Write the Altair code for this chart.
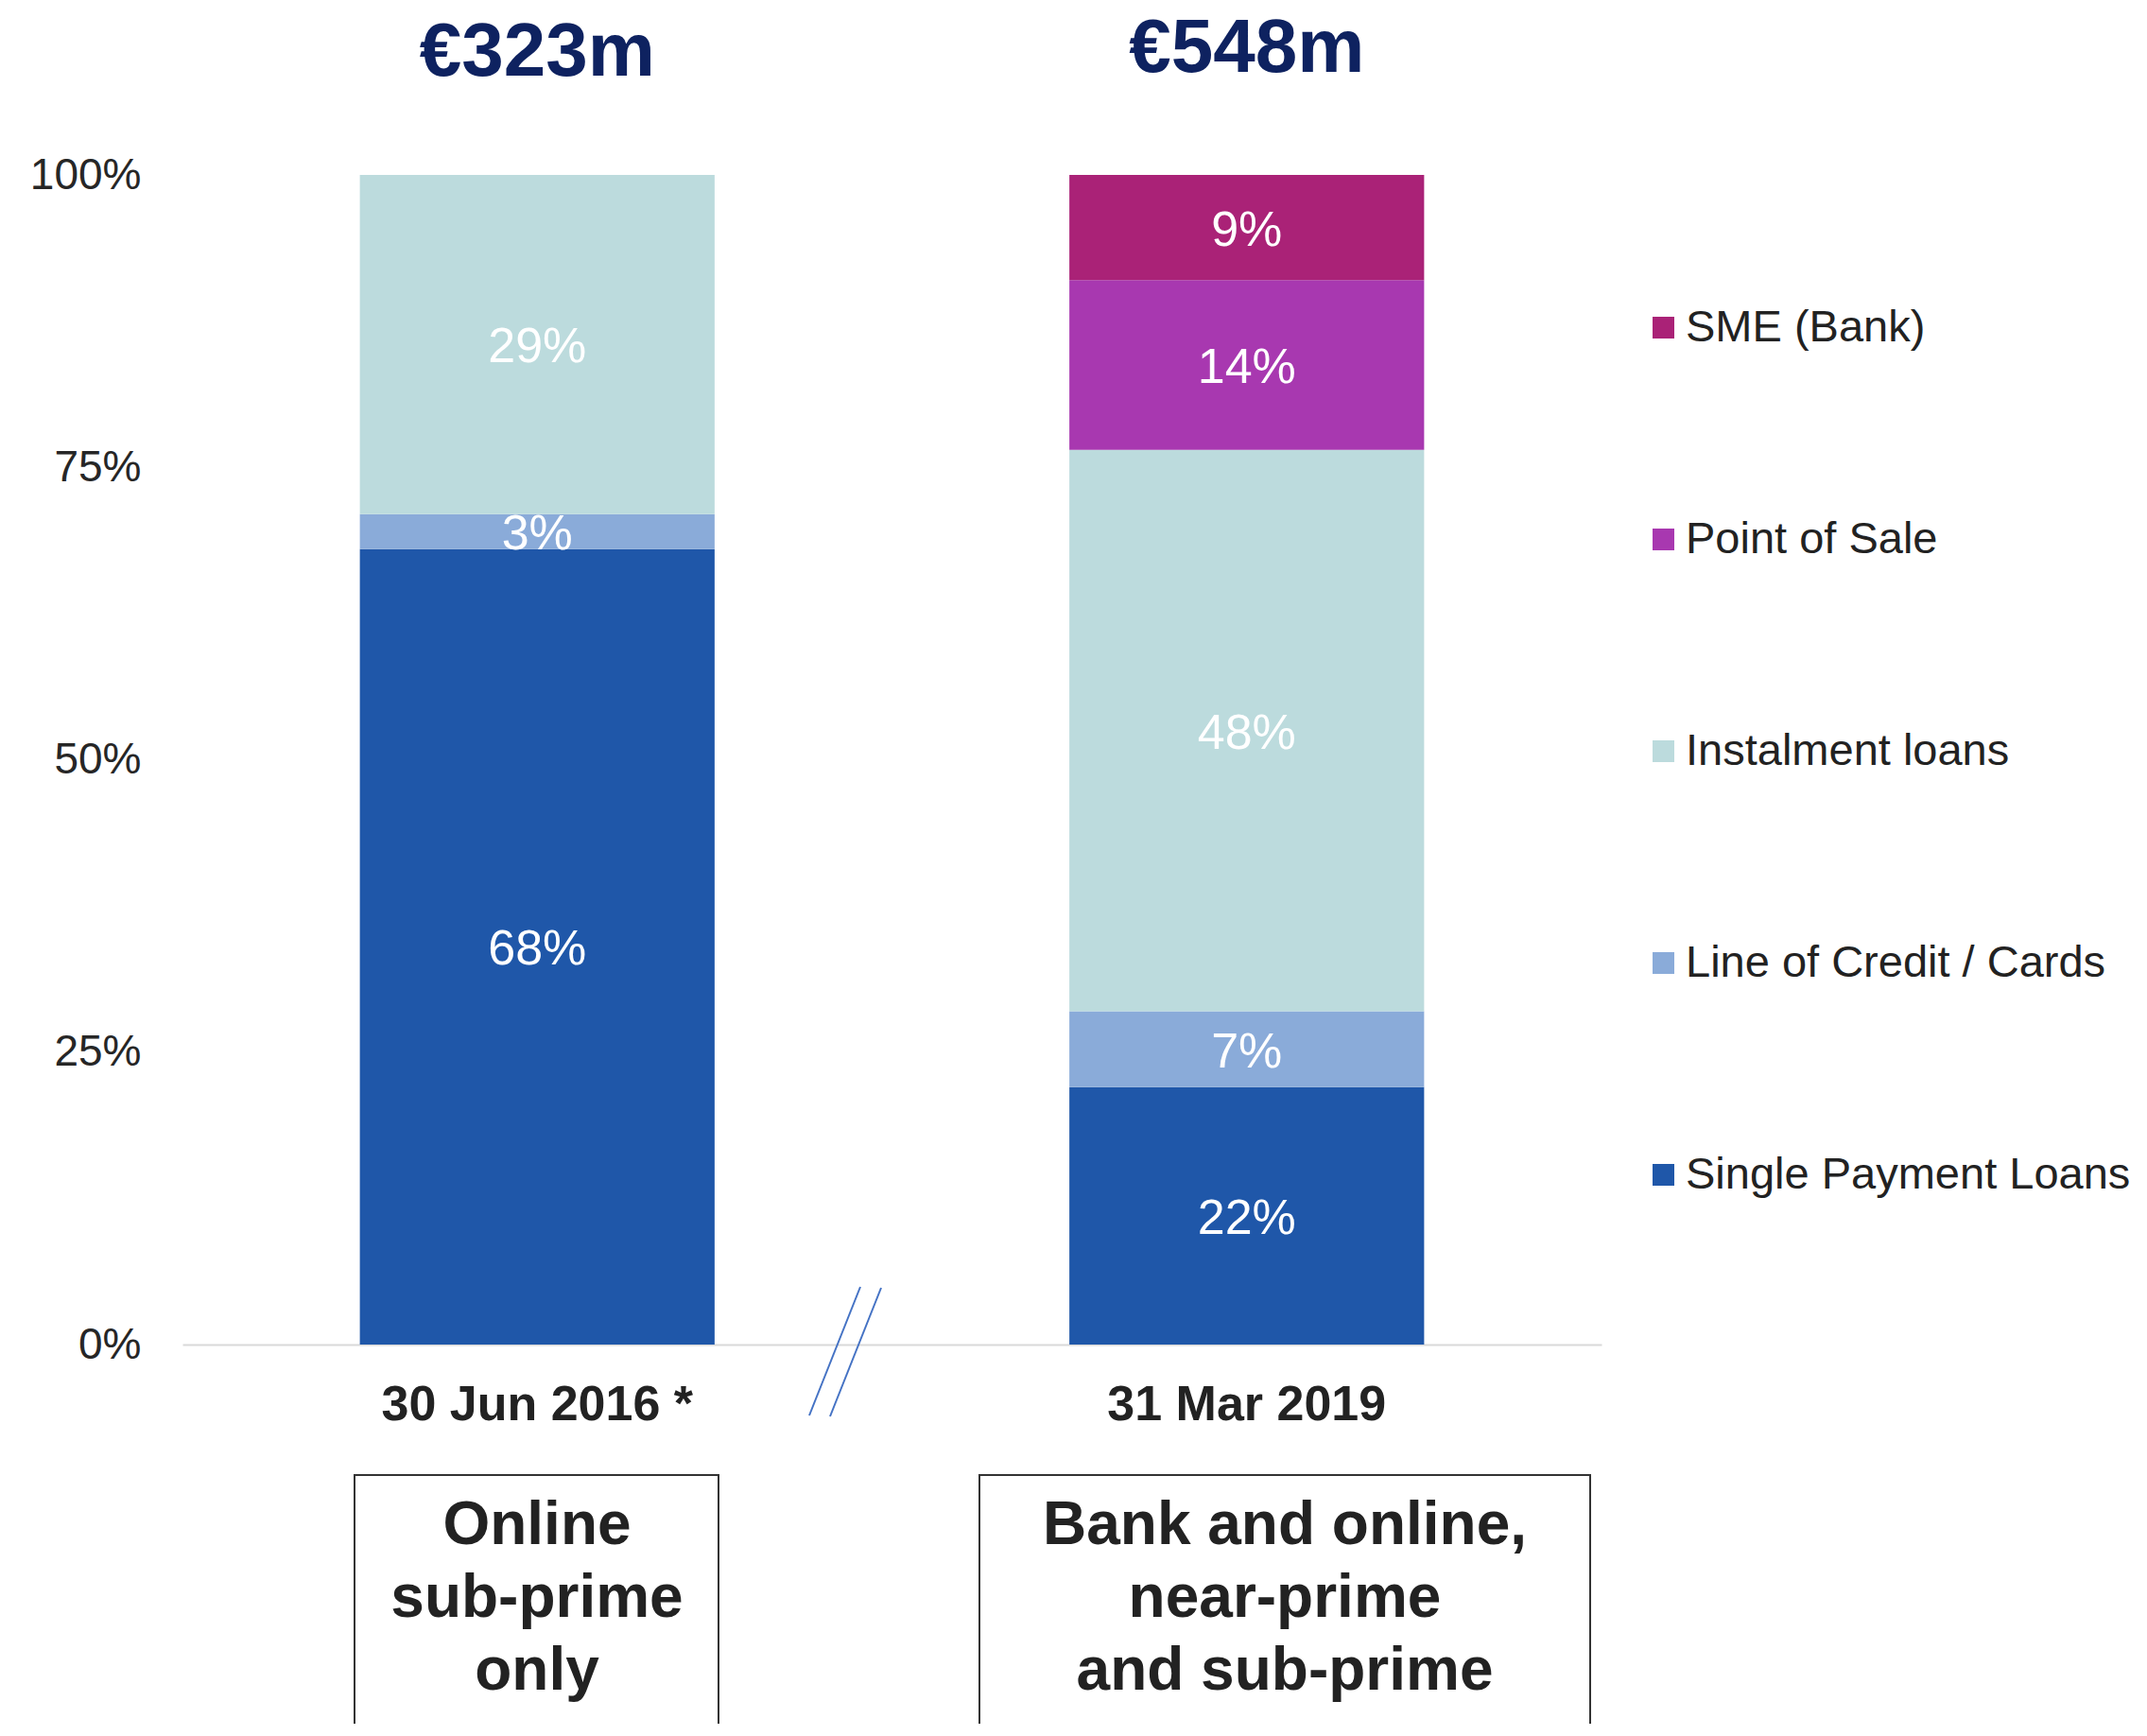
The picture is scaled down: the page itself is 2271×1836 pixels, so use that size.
import altair as alt
import pandas as pd

FONT = "Liberation Sans"

dates = ["30 Jun 2016 *", "31 Mar 2019"]
series = ["Single Payment Loans", "Line of Credit / Cards", "Instalment loans", "Point of Sale", "SME (Bank)"]
share_2016 = [68, 3, 29, 0, 0]
share_2019 = [22, 6.5, 48, 14.5, 9]
label_2016 = ["68%", "3%", "29%", "", ""]
label_2019 = ["22%", "7%", "48%", "14%", "9%"]
totals = ["€323m", "€548m"]
segments = ["Online\nsub-prime\nonly", "Bank and online,\nnear-prime\nand sub-prime"]
legend_order = ["SME (Bank)", "Point of Sale", "Instalment loans", "Line of Credit / Cards", "Single Payment Loans"]
palette = {
    "Single Payment Loans": "#1f57a9",
    "Line of Credit / Cards": "#8aabd9",
    "Instalment loans": "#bcdbdd",
    "Point of Sale": "#a838b0",
    "SME (Bank)": "#aa2277",
}
y_ticks = [0, 25, 50, 75, 100]

rows = []
for d, vals, labs in [(dates[0], share_2016, label_2016), (dates[1], share_2019, label_2019)]:
    for i, (s, v, l) in enumerate(zip(series, vals, labs)):
        if v > 0:
            rows.append({"date": d, "series": s, "share": v, "label": l, "order": i})
df = pd.DataFrame(rows)
df_tot = pd.DataFrame({"date": dates, "total": totals})

x_enc = alt.X(
    "date:N", sort=dates,
    scale=alt.Scale(paddingInner=0.5, paddingOuter=0.25),
    axis=alt.Axis(title=None, labelAngle=0, labelFontSize=52, labelFontWeight="bold",
                  labelFont=FONT, labelColor="#222222", ticks=False, domainColor="#d9d9d9",
                  domainWidth=2, labelPadding=38, labelLimit=0),
)
y_scale = alt.Scale(domain=[0, 100], nice=False)
y_axis = alt.Axis(title=None, values=y_ticks, labelExpr="datum.value + '%'", grid=False,
                  domain=False, ticks=False, labelPadding=44, labelFontSize=46,
                  labelFont=FONT, labelColor="#262626", labelLimit=0)

stacked = alt.Chart(df).transform_stack(
    stack="share", as_=["y0", "y1"], groupby=["date"],
    sort=[alt.SortField("order", order="ascending")],
).transform_calculate(mid="(datum.y0 + datum.y1) / 2")

bars = stacked.mark_bar().encode(
    x=x_enc,
    y=alt.Y("y0:Q", scale=y_scale, axis=y_axis),
    y2="y1:Q",
    color=alt.Color(
        "series:N",
        scale=alt.Scale(domain=legend_order, range=[palette[s] for s in legend_order]),
        legend=alt.Legend(title=None, orient="none", legendX=1543, legendY=138,
                          symbolType="square", symbolSize=529, labelFontSize=47,
                          labelFont=FONT, labelColor="#222222", rowPadding=176,
                          labelOffset=0, padding=0, symbolStrokeWidth=0, symbolOpacity=1,
                          labelLimit=0),
    ),
)

seg_labels = stacked.mark_text(fontSize=52, font=FONT, color="white", baseline="middle", dy=3).encode(
    x=x_enc,
    y=alt.Y("mid:Q", scale=y_scale, axis=y_axis),
    text="label:N",
)

title1 = alt.Chart(df_tot).transform_filter(alt.datum.date == dates[0]).mark_text(
    fontSize=80, font=FONT, fontWeight="bold", color="#0e2260", baseline="alphabetic"
).encode(x=x_enc, y=alt.value(-105), text="total:N")
title2 = alt.Chart(df_tot).transform_filter(alt.datum.date == dates[1]).mark_text(
    fontSize=80, font=FONT, fontWeight="bold", color="#0e2260", baseline="alphabetic"
).encode(x=x_enc, y=alt.value(-109), text="total:N")

one = pd.DataFrame({"k": [0]})
break1 = alt.Chart(one).mark_rule(color="#4472c4", strokeWidth=2).encode(
    x=alt.value(717), y=alt.value(1176), x2=alt.value(663), y2=alt.value(1312))
break2 = alt.Chart(one).mark_rule(color="#4472c4", strokeWidth=2).encode(
    x=alt.value(739), y=alt.value(1177), x2=alt.value(685), y2=alt.value(1313))

box1 = alt.Chart(one).mark_rect(fillOpacity=0, stroke="#333333", strokeWidth=2).encode(
    x=alt.value(182), x2=alt.value(567), y=alt.value(1375), y2=alt.value(1700))
box2 = alt.Chart(one).mark_rect(fillOpacity=0, stroke="#333333", strokeWidth=2).encode(
    x=alt.value(843), x2=alt.value(1489), y=alt.value(1375), y2=alt.value(1700))

seg_df1 = pd.DataFrame({"segment": [segments[0]]})
seg_df2 = pd.DataFrame({"segment": [segments[1]]})
boxtext1 = alt.Chart(seg_df1).mark_text(
    fontSize=64, font=FONT, fontWeight="bold", color="#222222", lineHeight=77,
    baseline="top", align="center", lineBreak="\n"
).encode(x=alt.value(375), y=alt.value(1397), text="segment:N")
boxtext2 = alt.Chart(seg_df2).mark_text(
    fontSize=64, font=FONT, fontWeight="bold", color="#222222", lineHeight=77,
    baseline="top", align="center", lineBreak="\n"
).encode(x=alt.value(1166), y=alt.value(1397), text="segment:N")

chart = alt.layer(
    bars, seg_labels, title1, title2, break1, break2, box1, box2, boxtext1, boxtext2
).properties(
    width=1501, height=1237,
    autosize=alt.AutoSizeParams(type="none"),
    padding={"left": 185, "top": 177, "right": 565, "bottom": 401},
    background="white",
).configure_view(stroke=None)

chart.save("out.html", embed_options={"renderer": "svg", "actions": False})
